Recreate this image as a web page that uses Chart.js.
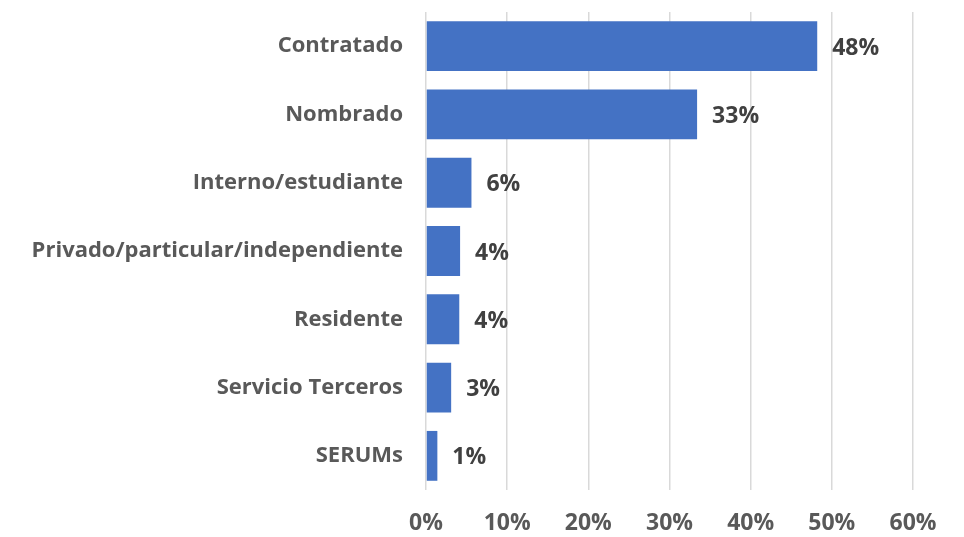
<!DOCTYPE html>
<html>
<head>
<meta charset="utf-8">
<script src="https://cdn.jsdelivr.net/npm/chart.js@4.4.0/dist/chart.umd.min.js"></script>
<style>
  html, body { margin: 0; padding: 0; background: #fff; }
  #wrap { width: 964px; height: 537px; position: relative; }
</style>
</head>
<body>
<div id="wrap"><canvas id="chart"></canvas></div>
<script>
var categorias = ['Contratado', 'Nombrado', 'Interno/estudiante', 'Privado/particular/independiente', 'Residente', 'Servicio Terceros', 'SERUMs'];
var porcentajes = [48.2, 33.4, 5.6, 4.2, 4.1, 3.1, 1.4];
var ticksX = [0, 10, 20, 30, 40, 50, 60];

var fuente = '"Open Sans", sans-serif';

// etiquetas de valor al final de cada barra
var etiquetas = {
    id: 'etiquetas',
    afterDatasetsDraw: function(chart){
        var ctx = chart.ctx;
        var meta = chart.getDatasetMeta(0);
        ctx.save();
        ctx.font = 'bold 23px ' + fuente;
        ctx.fillStyle = '#404040';
        ctx.textAlign = 'left';
        ctx.textBaseline = 'middle';
        meta.data.forEach(function(bar, i){
            ctx.fillText(Math.round(porcentajes[i]) + '%', bar.x + 15, bar.y + 2);
        });
        ctx.restore();
    }
};

var ctx = document.getElementById('chart').getContext('2d');
var grafico = new Chart(ctx, {
    type: 'bar',
    data: {
        labels: categorias,
        datasets: [{
            data: porcentajes,
            backgroundColor: '#4472C4',
            borderWidth: 0,
            barPercentage: 0.73,
            categoryPercentage: 1
        }]
    },
    options: {
        indexAxis: 'y',
        responsive: true,
        maintainAspectRatio: false,
        animation: false,
        layout: { padding: { left: 0, right: 51, top: 12, bottom: 0 } },
        plugins: {
            legend: { display: false },
            tooltip: { enabled: false }
        },
        scales: {
            x: {
                min: 0,
                max: 60,
                afterBuildTicks: function(scale){
                    scale.ticks = ticksX.map(function(v){ return { value: v }; });
                },
                afterFit: function(scale){
                    scale.height = 47;
                    scale.paddingLeft = 0;
                    scale.paddingRight = 0;
                },
                border: { display: false },
                grid: { color: '#d9d9d9', lineWidth: 1.5, drawTicks: false },
                ticks: {
                    padding: 20,
                    color: '#595959',
                    font: { family: fuente, size: 23, weight: 'bold' },
                    callback: function(v){ return v + '%'; }
                }
            },
            y: {
                afterFit: function(scale){
                    scale.width = 426;
                    scale.paddingTop = 0;
                    scale.paddingBottom = 0;
                },
                border: { display: false },
                grid: { display: false, drawTicks: false },
                ticks: {
                    padding: 23,
                    color: '#595959',
                    font: { family: fuente, size: 22, weight: 'bold' }
                }
            }
        }
    },
    plugins: [etiquetas]
});
</script>
</body>
</html>
